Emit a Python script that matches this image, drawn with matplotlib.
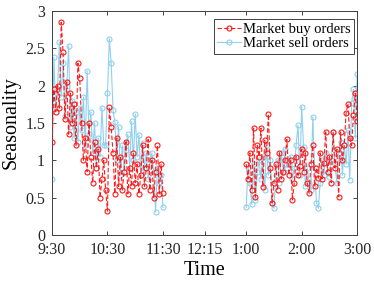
import numpy as np
import matplotlib
matplotlib.use("Agg")
import matplotlib.pyplot as plt

plt.rcParams['font.family'] = ['Liberation Serif', 'DejaVu Serif']

# minutes after 9:30, two-minute bars, morning and afternoon session
t_am = np.arange(0, 121, 2)
t_pm = np.arange(210, 331, 2)

buy_am = [1.25, 1.95, 1.65, 2.0, 1.7, 2.85, 2.45, 1.55, 2.05, 1.35, 1.9, 1.5, 1.75, 1.2, 2.3,
          2.1, 1.5, 1.0, 1.3, 0.85, 1.5, 1.05, 0.7, 1.25, 0.9, 1.15, 0.5, 0.75, 1.0, 0.6,
          0.32, 1.71, 1.45, 1.1, 0.55, 1.3, 0.65, 1.05, 0.6, 0.85, 1.25, 0.55, 0.9, 0.65, 1.1,
          0.7, 0.95, 0.55, 0.8, 1.2, 0.65, 0.9, 1.28, 0.6, 1.0, 0.5, 0.85, 1.2, 0.55, 0.95, 0.56]
sell_am = [0.75, 2.38, 1.7, 1.95, 2.58, 1.85, 2.3, 1.6, 2.0, 2.53, 1.45, 1.8, 1.3, 1.65, 1.25,
           1.7, 1.4, 1.85, 1.2, 2.2, 1.35, 1.65, 1.1, 1.5, 0.9, 1.3, 1.05, 1.7, 1.2, 1.2,
           1.9, 2.63, 2.3, 1.67, 1.51, 1.0, 1.45, 0.8, 1.2, 0.85, 1.14, 1.35, 0.9, 1.52, 1.0,
           1.62, 1.05, 1.34, 0.8, 1.23, 0.9, 1.1, 0.75, 1.0, 1.1, 0.85, 0.31, 0.9, 0.7, 0.8, 0.37]
buy_pm = [0.95, 0.75, 1.1, 0.6, 1.43, 0.51, 1.2, 1.05, 1.43, 0.64, 1.27, 1.1, 1.62, 0.9, 0.43,
          0.7, 0.95, 0.6, 1.1, 0.75, 0.85, 1.0, 1.28, 0.8, 1.0, 0.47, 0.7, 1.05, 0.8, 0.92,
          1.15, 0.85, 1.1, 0.7, 0.56, 0.95, 1.2, 0.65, 0.9, 0.76, 1.1, 0.75, 0.96, 1.38, 0.85,
          1.05, 0.7, 1.38, 0.9, 1.15, 0.51, 1.38, 1.0, 1.2, 1.63, 1.76, 1.3, 1.2, 1.61, 1.9, 1.53]
sell_pm = [0.37, 0.9, 0.7, 0.41, 0.95, 0.47, 0.85, 1.0, 0.75, 1.05, 0.6, 1.2, 0.8, 1.0, 0.43,
           0.36, 0.8, 1.0, 0.7, 1.1, 0.85, 1.15, 0.9, 0.95, 1.05, 0.75, 0.9, 1.2, 1.47, 0.8,
           1.72, 1.18, 0.65, 0.9, 0.7, 0.6, 1.58, 0.9, 0.43, 0.36, 0.7, 1.0, 0.8, 1.1, 0.85,
           0.78, 1.0, 1.38, 0.95, 0.7, 1.1, 1.25, 0.8, 1.2, 0.95, 1.4, 0.74, 1.77, 1.95, 1.3, 2.15]

tick_pos = [0, 60, 120, 165, 210, 270, 330]
tick_lab = ['9:30', '10:30', '11:30', '12:15', '1:00', '2:00', '3:00']

red = '#ff1a1a'
blue = '#8fd0ee'

fig = plt.figure(figsize=(3.74, 2.84), dpi=100)
ax = fig.add_axes([0.139, 0.1725, 0.816, 0.789])

for i, (tt, b, s) in enumerate([(t_am, buy_am, sell_am), (t_pm, buy_pm, sell_pm)]):
    ax.plot(tt, s, '-', color=blue, lw=0.8, marker='o', ms=3.6, mfc='none', mew=0.8,
            zorder=2, label='Market sell orders' if i == 0 else None)
    ax.plot(tt, b, '--', color=red, lw=0.8, marker='o', ms=3.6, mfc='none', mew=0.8,
            dashes=(4, 2), zorder=3, label='Market buy orders' if i == 0 else None)

ax.set_xlim(0, 330)
ax.set_ylim(0, 3)
ax.set_xticks(tick_pos)
ax.set_xticklabels(tick_lab)
ax.set_yticks([0, 0.5, 1, 1.5, 2, 2.5, 3])
ax.set_yticklabels(['0', '0.5', '1', '1.5', '2', '2.5', '3'])
ax.tick_params(direction='in', top=True, right=True, length=3, width=0.6,
               labelsize=11.5, colors='#262626')
ax.tick_params(axis='x', pad=5)
ax.tick_params(axis='y', pad=5)
for sp in ax.spines.values():
    sp.set_color('#404040')
    sp.set_linewidth(0.7)
ax.set_xlabel('Time', fontsize=14.5, labelpad=2)
ax.set_ylabel('Seasonality', fontsize=14.5, labelpad=3)

h, l = ax.get_legend_handles_labels()
leg = ax.legend(h[::-1], l[::-1], loc='upper right', bbox_to_anchor=(0.99, 0.965),
                fontsize=10.5, fancybox=False, edgecolor='#404040', framealpha=1,
                handlelength=1.6, handletextpad=0.15, borderpad=0.25, labelspacing=0.1,
                borderaxespad=0)
leg.get_frame().set_linewidth(0.7)

fig.savefig('out.png', dpi=100)
